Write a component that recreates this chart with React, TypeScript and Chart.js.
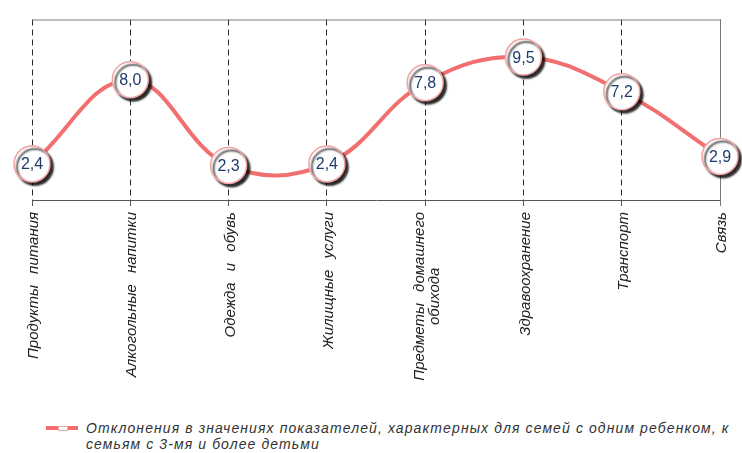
import React, { useEffect, useRef } from "react";
import { Chart, registerables } from "chart.js";

Chart.register(...registerables);

const categories: (string | string[])[] = [
  "Продукты питания",
  "Алкогольные напитки",
  "Одежда и обувь",
  "Жилищные услуги",
  ["Предметы домашнего", "обихода"],
  "Здравоохранение",
  "Транспорт",
  "Связь",
];

const values: number[] = [2.4, 8.0, 2.3, 2.4, 7.8, 9.5, 7.2, 2.9];

const legendLine1 =
  "Отклонения в значениях показателей, характерных для семей с одним ребенком, к";
const legendLine2 = "семьям с 3-мя и более детьми";

const LINE_COLOR = "#f26f6f";

export default function App() {
  const ref = useRef<HTMLCanvasElement | null>(null);

  useEffect(() => {
    if (!ref.current) return;

    const framePlugin = {
      id: "frame",
      beforeDatasetsDraw(chart: any) {
        const { ctx, chartArea } = chart;
        ctx.save();
        ctx.strokeStyle = "#7a7a7a";
        ctx.lineWidth = 1;
        ctx.setLineDash([]);
        ctx.beginPath();
        ctx.moveTo(chartArea.left, chartArea.top + 0.5);
        ctx.lineTo(chartArea.right + 0.5, chartArea.top + 0.5);
        ctx.lineTo(chartArea.right + 0.5, chartArea.bottom + 6);
        ctx.stroke();
        ctx.restore();

        // category labels, rotated, block-centred multi-line
        const xScale = chart.scales.x;
        ctx.save();
        ctx.font = "italic 15px 'Liberation Sans', Arial, sans-serif";
        ctx.fillStyle = "#222222";
        try {
          (ctx as any).wordSpacing = "7px";
        } catch (e) {
          /* ignore */
        }
        ctx.textBaseline = "middle";
        ctx.textAlign = "center";
        const lh = 15;
        categories.forEach((lab, i) => {
          const lines = Array.isArray(lab) ? lab : [lab];
          const widths = lines.map((l) => ctx.measureText(l).width);
          const maxW = Math.max(...widths);
          const x = xScale.getPixelForValue(i) + 2;
          const y = chartArea.bottom + 12;
          ctx.save();
          ctx.translate(x, y);
          ctx.rotate(-Math.PI / 2);
          lines.forEach((l, j) => {
            ctx.fillText(l, -maxW / 2, (j - (lines.length - 1) / 2) * lh);
          });
          ctx.restore();
        });
        ctx.restore();
      },
      beforeDatasetDraw(chart: any, args: any) {
        if (args.index === 1) {
          const ctx = chart.ctx;
          ctx.save();
          ctx.shadowColor = "rgba(0,0,0,0.85)";
          ctx.shadowOffsetX = 3;
          ctx.shadowOffsetY = 3;
          ctx.shadowBlur = 2;
        }
      },
      afterDatasetDraw(chart: any, args: any) {
        if (args.index === 1) {
          chart.ctx.restore();
        }
      },
      afterDatasetsDraw(chart: any) {
        const { ctx } = chart;
        const meta = chart.getDatasetMeta(1);
        ctx.save();
        ctx.font = "16px 'Liberation Sans', Arial, sans-serif";
        ctx.fillStyle = "#1f3b6e";
        ctx.textAlign = "center";
        ctx.textBaseline = "middle";
        meta.data.forEach((el: any, i: number) => {
          const v = chart.data.datasets[1].data[i] as number;
          ctx.fillText(v.toFixed(1).replace(".", ","), el.x, el.y + 1);
        });
        ctx.restore();
      },
    };

    const chart = new Chart(ref.current, {
      type: "line",
      data: {
        labels: categories,
        datasets: [
          {
            data: values,
            borderColor: LINE_COLOR,
            borderWidth: 4,
            tension: 0.4,
            pointRadius: 0,
            fill: false,
            order: 2,
            clip: false as any,
          },
          {
            data: values,
            showLine: false,
            pointRadius: 18,
            pointBackgroundColor: "#ffffff",
            pointBorderColor: "#f2a3a3",
            pointBorderWidth: 1.5,
            order: 1,
            clip: false as any,
          },
        ],
      },
      options: {
        animation: false,
        responsive: false,
        maintainAspectRatio: false,
        layout: { padding: { left: 32, right: 22, top: 16, bottom: 0 } },
        plugins: {
          legend: { display: false },
          tooltip: { enabled: false },
        },
        scales: {
          y: {
            display: false,
            min: 0,
            max: 12,
          },
          x: {
            type: "category",
            offset: false,
            afterFit: (scale: any) => {
              scale.height = 200;
            },
            grid: {
              display: true,
              color: "#2a2a2a",
              lineWidth: 1,
              drawOnChartArea: true,
              drawTicks: true,
              tickLength: 6,
              tickColor: "#555555",
            },
            border: {
              display: true,
              color: "#555555",
              width: 1,
              dash: [6, 4],
            },
            ticks: {
              autoSkip: false,
              display: false,
            },
          },
        },
      },
      plugins: [framePlugin],
    });

    return () => chart.destroy();
  }, []);

  return (
    <div style={{ position: "absolute", left: 0, top: 0, width: 742, height: 453, background: "#fff" }}>
      <canvas ref={ref} width={742} height={400} style={{ display: "block", width: 742, height: 400 }} />
      <div style={{ position: "absolute", left: 46, top: 426, width: 32, height: 4, background: LINE_COLOR }}>
        <div
          style={{
            position: "absolute",
            left: 12,
            top: 0,
            width: 8,
            height: 3,
            background: "#fff",
            border: "0.5px solid #f2a3a3",
          }}
        />
      </div>
      <div
        style={{
          position: "absolute",
          left: 86,
          top: 420,
          width: 660,
          whiteSpace: "nowrap",
          fontFamily: "'Liberation Sans', Arial, sans-serif",
          fontStyle: "italic",
          fontSize: 14,
          letterSpacing: "1.1px",
          lineHeight: "16px",
          color: "#333",
        }}
      >
        {legendLine1}
        <br />
        {legendLine2}
      </div>
    </div>
  );
}
